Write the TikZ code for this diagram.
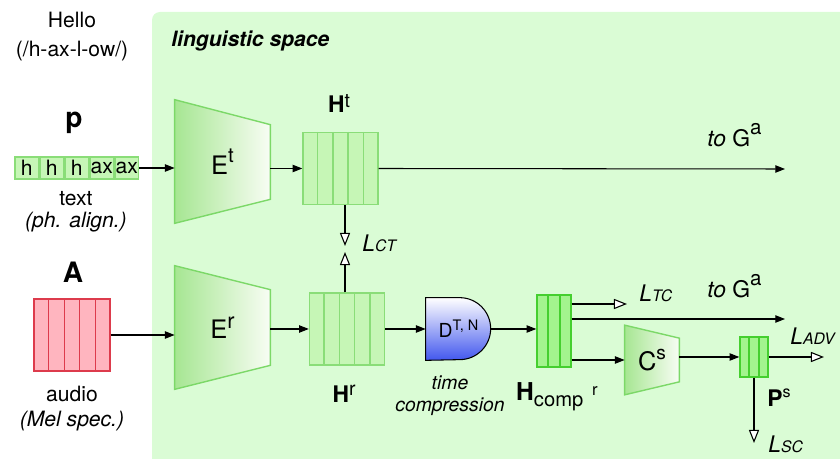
\documentclass[tikz,border=0pt]{standalone}
\usepackage{fontspec}
\setmainfont{TeX Gyre Heros}
\usepackage{graphicx}
\usepackage{tikz}
\usetikzlibrary{
	arrows.meta,
	positioning,
	calc,
	backgrounds
}
\usepackage{xcolor}

\definecolor{spacegreen}{HTML}{DAFCD5}
\definecolor{cellfill}{HTML}{C6F6B6}
\definecolor{celldraw}{HTML}{8ADD78}
\definecolor{compfill}{HTML}{A3F48E}
\definecolor{compdraw}{HTML}{45CF2F}
\definecolor{encgreen}{HTML}{A6E692}
\definecolor{encwhite}{HTML}{F8FDF4}
\definecolor{encdraw}{HTML}{7CD868}
\definecolor{audiofill}{HTML}{FFB5BF}
\definecolor{audiodraw}{HTML}{DD3B4C}
\definecolor{dblue}{HTML}{4257EE}

\newcommand{\lossname}[1]{\textit{L}{\fontsize{9}{10}\selectfont\textit{#1}}}
\newcommand{\supx}[3]{\raisebox{#2}{\scalebox{#1}{#3}}}
\newcommand{\cellsplit}[3]{% node, number of cells, colour
	\pgfmathtruncatemacro{\lastcut}{#2-1}
	\foreach \k in {1,...,\lastcut}
	\draw[#3,line width=0.8pt] ($(#1.north west)!\k/#2!(#1.north east)$) -- ($(#1.south west)!\k/#2!(#1.south east)$);
}

\begin{document}
\begin{tikzpicture}[>=Stealth,x=0.02cm,y=-0.02cm,
	txt/.style={font=\fontsize{12}{14}\selectfont,inner sep=0pt},
	itxt/.style={font=\fontsize{12}{14}\selectfont\itshape,inner sep=0pt},
	losstxt/.style={font=\fontsize{13}{15}\selectfont,inner sep=0pt},
	bigbold/.style={font=\fontsize{16}{18}\selectfont\bfseries,inner sep=0pt},
	feat/.style={font=\fontsize{13}{15}\selectfont,inner sep=0pt},
	phon/.style={draw=celldraw,fill=cellfill,line width=0.8pt,minimum width=0.472cm,minimum height=0.44cm,inner sep=0pt,font=\fontsize{12}{14}\selectfont},
	featcells/.style={draw=celldraw,fill=cellfill,line width=0.8pt,minimum width=1.5cm,minimum height=1.44cm,inner sep=0pt},
	compcells/.style={draw=compdraw,fill=compfill,line width=0.8pt,inner sep=0pt},
	encbox/.style={minimum width=1.9cm,minimum height=2.46cm,inner sep=0pt,font=\fontsize{14.5}{16}\selectfont},
	encoder/.style={left color=encgreen,right color=encwhite,draw=encdraw,line width=0.8pt},
	arr/.style={-{Triangle[length=5.5pt,width=4.2pt]},line width=0.6pt},
	lossarr/.style={-{Triangle[open,length=7.5pt,width=5.8pt,fill=white]},line width=0.6pt}
	]
	
	\useasboundingbox (0,0) rectangle (840,459);
	
	%---------------- Text branch ----------------%
	
	\node[txt,anchor=base] (hello) at (72,28) {Hello};
	\node[txt,anchor=base] (hellophon) at (72,57) {(/h-ax-l-ow/)};
	\node[font=\fontsize{12}{14}\selectfont\bfseries\itshape,inner sep=0pt,anchor=base west] (space) at (171,47) {linguistic space};
	
	\node[bigbold,anchor=base] (plabel) at (74,128) {p};
	\node[phon] (p1) at (26.8,168) {h};
	\node[phon,right=0pt of p1] (p2) {h};
	\node[phon,right=0pt of p2] (p3) {h};
	\node[phon,right=0pt of p3] (p4) {ax};
	\node[phon,right=0pt of p4] (p5) {ax};
	\node[txt,anchor=base] (ptext) at (76,206) {text};
	\node[itxt,anchor=base] (palign) at (76,228) {(ph. align.)};
	
	\node[encbox] (Et) at (222.5,161.5) {E\supx{0.8}{6.5pt}{t}\hspace{8pt}};
	\node[featcells] (Ht) at (340.5,168.5) {};
	\node[feat,anchor=base] (Htlabel) at (339,113) {\textbf{H}\supx{0.85}{3pt}{t}};
	
	\coordinate (toGaA) at (785,169);
	\node[feat,anchor=base west] (toGaAlabel) at (707,147) {\textit{to} G\supx{0.9}{7pt}{a}};
	
	%---------------- Audio branch ----------------%
	
	\node[bigbold,anchor=base] (alabel) at (73,283) {A};
	\node[draw=audiodraw,fill=audiofill,line width=0.8pt,minimum width=1.52cm,minimum height=1.44cm,inner sep=0pt] (audio) at (72,335) {};
	\node[txt,anchor=base] (atext) at (72,402) {audio};
	\node[itxt,anchor=base] (amel) at (72,427) {(Mel spec.)};
	
	\node[encbox] (Er) at (222.5,327.5) {E\supx{0.85}{5.5pt}{r}\hspace{8pt}};
	\node[featcells] (Hr) at (347,329) {};
	\node[feat,anchor=base] (Hrlabel) at (344,403) {\textbf{H}\supx{0.85}{4.5pt}{r}};
	
	\coordinate (lctA) at (345,246);
	\coordinate (lctB) at (345,252);
	\node[losstxt,anchor=base west] (lct) at (362,252) {\lossname{CT}};
	
	%---------------- Compression ----------------%
	
	\node[minimum width=1.3cm,minimum height=1.24cm,inner sep=0pt,font=\fontsize{11}{13}\selectfont] (D) at (458.5,329) {D\supx{0.75}{4pt}{T, N}};
	\node[itxt,font=\fontsize{11}{13}\selectfont\itshape,anchor=base] (dtime) at (450,390) {time};
	\node[itxt,font=\fontsize{11}{13}\selectfont\itshape,anchor=base] (dcomp) at (450,412) {compression};
	
	\node[compcells,minimum width=0.68cm,minimum height=1.44cm] (Hcomp) at (554,331) {};
	\node[inner sep=0pt,anchor=base] (Hcomplabel) at (557,401)
	{{\fontsize{14}{16}\selectfont\bfseries H}{\fontsize{11.5}{13}\selectfont\raisebox{-3.2pt}{comp}\hspace{5pt}\raisebox{3.4pt}{\fontsize{9.5}{11}\selectfont r}}};
	
	\coordinate (ltcEnd) at (627,304);
	\node[losstxt,anchor=base west] (ltc) at (639,302) {\lossname{TC}};
	\coordinate (toGaB) at (785,319);
	\node[feat,anchor=base west] (toGaBlabel) at (707,298) {\textit{to} G\supx{0.9}{7pt}{a}};
	
	%---------------- Speaker classifier ----------------%
	
	\node[minimum width=1.08cm,minimum height=1.38cm,inner sep=0pt,font=\fontsize{14.5}{16}\selectfont] (Cs) at (652,360) {C\supx{0.75}{6pt}{s}};
	\node[compcells,minimum width=0.56cm,minimum height=0.8cm] (Ps) at (754,357) {};
	\node[feat,anchor=base] (Pslabel) at (779,407) {\textbf{P}\supx{0.7}{5.5pt}{s}};
	
	\coordinate (ladvEnd) at (824,357);
	\node[losstxt,anchor=base west] (ladv) at (790,345) {\lossname{ADV}};
	\coordinate (lscEnd) at (754,443);
	\node[losstxt,anchor=base west] (lsc) at (768,453) {\lossname{SC}};
	
	%---------------- Cells ----------------%
	
	\cellsplit{Ht}{5}{celldraw}
	\cellsplit{Hr}{5}{celldraw}
	\cellsplit{audio}{5}{audiodraw}
	\cellsplit{Hcomp}{3}{compdraw}
	\cellsplit{Ps}{3}{compdraw}
	
	%---------------- Connectors ----------------%
	
	\draw[arr] (p5.east) -- (p5.east -| Et.west);
	\draw[arr] (Et.east |- Ht.west) -- (Ht.west);
	\draw[arr] (Ht.east) -- (toGaA);
	\draw[lossarr] (Ht.south -| lctA) -- (lctA);
	\draw[lossarr] (Hr.north -| lctB) -- (lctB);
	
	\draw[arr] (audio.east) -- (audio.east -| Er.west);
	\draw[arr] (Er.east |- Hr.west) -- (Hr.west);
	\draw[arr] (Hr.east) -- (D.west);
	\draw[arr] (D.east) -- (D.east -| Hcomp.west);
	
	\draw[lossarr] (ltcEnd -| Hcomp.east) -- (ltcEnd);
	\draw[arr] (toGaB -| Hcomp.east) -- (toGaB);
	\draw[arr] (Cs.west -| Hcomp.east) -- (Cs.west);
	\draw[arr] (Ps.west -| Cs.east) -- (Ps.west);
	\draw[lossarr] (Ps.east) -- (ladvEnd);
	\draw[lossarr] (Ps.south) -- (lscEnd);
	
	%---------------- Shapes ----------------%
	
	\begin{pgfonlayer}{background}
		\fill[spacegreen,rounded corners=0.16cm] (152,12) rectangle (880,500);
		\shade[encoder] (Et.north west) -- ($(Et.north east)+(0,25)$) -- ($(Et.south east)+(0,-24)$) -- (Et.south west) -- cycle;
		\shade[encoder] (Er.north west) -- ($(Er.north east)+(0,24)$) -- ($(Er.south east)+(0,-24)$) -- (Er.south west) -- cycle;
		\shade[encoder] (Cs.north west) -- ($(Cs.north east)+(0,13)$) -- ($(Cs.south east)+(0,-13)$) -- (Cs.south west) -- cycle;
		\shade[top color=white,bottom color=dblue,draw=black,line width=0.6pt] (D.south west) -- (D.north west) -- ($(D.north west)+(34,0)$) arc[start angle=90,end angle=-90,radius=0.62cm] -- cycle;
	\end{pgfonlayer}
	
\end{tikzpicture}
\end{document}
